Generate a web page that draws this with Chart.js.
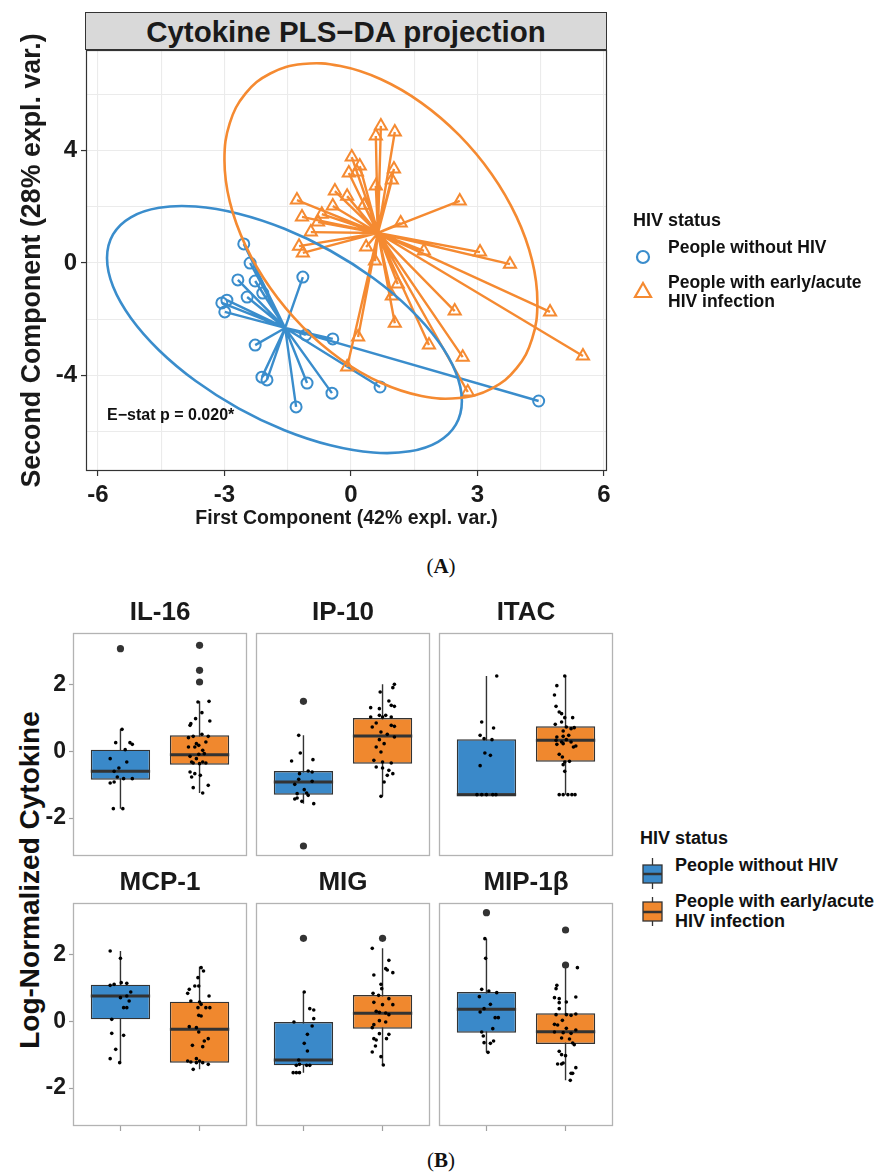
<!DOCTYPE html>
<html><head><meta charset="utf-8">
<script src="https://cdn.jsdelivr.net/npm/chart.js@4.4.1/dist/chart.umd.min.js"></script>
<style>
html,body{margin:0;padding:0;background:#fff;}
body{width:881px;height:1176px;position:relative;overflow:hidden;font-family:'Liberation Sans',Arial,Helvetica,sans-serif;color:#111;}
.abs{position:absolute;}
canvas{position:absolute;display:block;}
.lg{position:absolute;font-weight:bold;white-space:nowrap;color:#111;}
</style></head><body>
<div class="abs" style="left:85px;top:12px;width:520px;height:36px;background:#d9d9d9;border:1px solid #333;text-align:center;font-weight:bold;font-size:29.5px;line-height:37px;color:#1a1a1a;">Cytokine PLS−DA projection</div>
<canvas id="chartA" width="881" height="545" style="left:0;top:0"></canvas>

<div class="lg" style="left:633px;top:209px;font-size:18px;line-height:22px;">HIV status</div>
<svg class="abs" style="left:634px;top:248px" width="20" height="20"><circle cx="9" cy="9" r="6" stroke="#3A8DCC" stroke-width="2.2" fill="none"/></svg>
<div class="lg" style="left:668px;top:236px;font-size:17.5px;line-height:22px;">People without HIV</div>
<svg class="abs" style="left:633px;top:281px" width="22" height="20"><polygon points="10,2 18,16 2,16" stroke="#F58A31" stroke-width="2.2" fill="none"/></svg>
<div class="lg" style="left:668px;top:273px;font-size:17.5px;line-height:18.5px;">People with early/acute<br>HIV infection</div>

<div class="abs" style="left:341px;top:553px;width:200px;text-align:center;font-family:'Liberation Serif','Times New Roman',serif;font-size:21px;line-height:26px;color:#111;">(<b>A</b>)</div>

<div class="abs" style="left:-170px;top:864px;width:400px;text-align:center;font-weight:bold;font-size:28px;line-height:32px;transform:rotate(-90deg);color:#111;">Log-Normalized Cytokine</div>

<div class="lg" style="left:640px;top:827px;font-size:18px;line-height:22px;">HIV status</div>
<svg class="abs" style="left:640px;top:855px" width="26" height="80">
  <line x1="12.5" y1="3" x2="12.5" y2="34" stroke="#333" stroke-width="1.3"/>
  <rect x="3" y="10" width="19" height="18" fill="#3A89C9" stroke="#333" stroke-width="1.3"/>
  <line x1="3" y1="19" x2="22" y2="19" stroke="#333" stroke-width="2.5"/>
  <line x1="12.5" y1="42" x2="12.5" y2="71" stroke="#333" stroke-width="1.3"/>
  <rect x="3" y="47" width="19" height="19" fill="#F0882E" stroke="#333" stroke-width="1.3"/>
  <line x1="3" y1="57" x2="22" y2="57" stroke="#333" stroke-width="2.5"/>
</svg>
<div class="lg" style="left:675px;top:854px;font-size:18px;line-height:22px;">People without HIV</div>
<div class="lg" style="left:675px;top:891px;font-size:18px;line-height:20px;">People with early/acute<br>HIV infection</div>

<div class="abs" style="left:341px;top:1147px;width:200px;text-align:center;font-family:'Liberation Serif','Times New Roman',serif;font-size:21px;line-height:26px;color:#111;">(<b>B</b>)</div>

<script>
// ================= DATA: Panel A (PLS-DA projection) =================
const groupNames = ['People without HIV', 'People with early/acute HIV infection'];
const comp1_noHIV = [-2.54,-2.39,-2.68,-2.27,-2.46,-2.09,-3.06,-2.94,-2.99,-1.14,-2.27,-1.07,-0.43,-2.11,-1.99,-1.04,-0.45,-1.30,0.69,4.45];
const comp2_noHIV = [0.68,0.00,-0.60,-0.64,-1.21,-1.07,-1.42,-1.32,-1.74,-0.50,-2.92,-2.56,-2.70,-4.06,-4.16,-4.27,-4.63,-5.12,-4.41,-4.91];
const comp1_HIV = [0.71,0.59,1.04,0.02,0.21,-0.05,0.14,1.02,0.97,-0.38,-0.09,0.59,-1.28,-0.43,0.31,2.58,-1.16,-0.69,-0.78,1.18,-0.95,-1.23,-1.14,0.36,0.57,1.73,3.06,3.77,1.11,0.97,2.46,4.72,1.04,0.17,1.85,2.65,5.50,-0.09,2.77];
const comp2_HIV = [4.88,4.52,4.66,3.77,3.45,3.20,3.24,3.35,2.95,2.56,2.38,2.74,2.24,2.03,2.06,2.21,1.64,1.74,1.46,1.42,1.10,0.60,0.36,0.57,0.07,0.43,0.39,-0.04,-0.75,-1.17,-1.71,-1.74,-2.14,-2.63,-2.92,-3.35,-3.31,-3.70,-4.59];
const centroid_noHIV = [-1.56, -2.31];
const centroid_HIV = [0.64, 1.07];
// confidence-ellipse outline vertices
const ellipseX_noHIV = [2.630,2.487,2.066,1.398,0.527,-0.487,-1.576,-2.665,-3.679,-4.550,-5.218,-5.639,-5.782,-5.639,-5.218,-4.550,-3.679,-2.665,-1.576,-0.487,0.527,1.398,2.066,2.487];
const ellipseY_noHIV = [-4.911,-5.752,-6.362,-6.700,-6.743,-6.487,-5.951,-5.171,-4.199,-3.102,-1.956,-0.838,0.177,1.018,1.628,1.966,2.009,1.753,1.217,0.437,-0.535,-1.632,-2.778,-3.896];
const ellipseX_HIV = [4.420,4.294,3.923,3.334,2.566,1.671,0.711,-0.249,-1.144,-1.912,-2.501,-2.872,-2.998,-2.872,-2.501,-1.912,-1.144,-0.249,0.711,1.671,2.566,3.334,3.923,4.294];
const ellipseY_HIV = [-1.388,-2.699,-3.749,-4.466,-4.801,-4.730,-4.260,-3.422,-2.273,-0.892,0.627,2.183,3.666,4.977,6.027,6.744,7.079,7.008,6.538,5.700,4.551,3.170,1.651,0.095];
const xGridA = [-6,-4.5,-3,-1.5,0,1.5,3,4.5,6];
const xTicksA = [-6,-3,0,3,6];
const xTickLabelsA = ['-6','-3','0','3','6'];
const yGridA = [-6,-4,-2,0,2,4,6];
const yTicksA = [-4,0,4];
const yTickLabelsA = ['-4','0','4'];
const estatText = 'E−stat p = 0.020*';
const estatPos = [-5.78, -5.44];

// ================= DATA: Panel B (box plots) =================
const cytokines = ['IL-16','IP-10','ITAC','MCP-1','MIG','MIP-1β'];
// [lower whisker, Q1, median, Q3, upper whisker]
const box_noHIV = [
  [-1.72,-0.85,-0.60,0.05,0.66],
  [-1.57,-1.30,-0.92,-0.59,0.48],
  [-1.30,-1.30,-1.30,0.36,2.26],
  [-1.24,0.06,0.76,1.10,2.11],
  [-1.54,-1.32,-1.16,-0.02,0.88],
  [-0.93,-0.34,0.36,0.88,2.48]
];
const box_HIV = [
  [-1.25,-0.40,-0.10,0.48,1.50],
  [-1.35,-0.37,0.46,1.00,2.01],
  [-1.30,-0.31,0.33,0.75,2.26],
  [-1.44,-1.24,-0.24,0.59,1.64],
  [-1.31,-0.22,0.24,0.79,2.19],
  [-1.77,-0.68,-0.31,0.24,1.63]
];
const outliers_noHIV = [[3.08],[1.50,-2.84],[],[],[2.49],[3.26]];
const outliers_HIV = [[3.18,2.43,2.08],[],[],[],[2.49],[2.74,1.69]];
// jittered observations: [horizontal jitter, value]
const jit_noHIV = [
  [[0.02,0.66],[-0.06,0.26],[0.12,0.26],[0.15,0.21],[0.06,0.05],[-0.13,-0.22],[0.08,-0.32],[-0.02,-0.50],[-0.08,-0.60],[-0.04,-0.77],[0.04,-0.82],[0.15,-0.82],[-0.08,-0.92],[-0.13,-0.95],[-0.09,-1.72],[0.03,-1.72]],
  [[-0.06,0.48],[-0.04,-0.05],[-0.15,-0.29],[0.12,-0.25],[-0.05,-0.67],[0.06,-0.59],[0.11,-0.62],[-0.06,-0.84],[0.11,-0.90],[-0.11,-0.99],[0.01,-1.15],[-0.08,-1.27],[0.04,-1.25],[0.06,-1.32],[-0.08,-1.40],[-0.11,-1.43],[-0.02,-1.50],[0.13,-1.57]],
  [[0.13,2.26],[-0.06,0.88],[0.09,0.70],[-0.08,0.48],[-0.03,0.38],[0.07,0.35],[-0.02,-0.05],[0.05,-0.12],[-0.08,-0.43],[-0.12,-1.30],[-0.06,-1.30],[0.00,-1.30],[0.08,-1.30],[0.12,-1.30]],
  [[-0.13,2.11],[0.00,1.89],[-0.13,1.08],[-0.08,1.11],[0.01,1.16],[0.08,1.14],[0.13,0.88],[0.08,0.76],[0.00,0.71],[0.11,0.61],[0.04,0.41],[0.08,0.41],[-0.11,0.06],[-0.11,-0.36],[0.04,-0.42],[-0.06,-0.84],[-0.13,-1.12],[-0.01,-1.24]],
  [[0.01,0.88],[0.08,0.38],[0.13,0.34],[-0.12,-0.02],[0.13,0.08],[0.11,-0.14],[0.05,-0.39],[0.01,-0.66],[0.05,-0.89],[-0.06,-1.16],[-0.09,-1.32],[-0.05,-1.29],[0.04,-1.32],[0.08,-1.32],[-0.13,-1.54],[-0.09,-1.54],[-0.05,-1.54]],
  [[-0.02,2.48],[-0.01,1.89],[-0.06,0.96],[0.03,0.91],[0.13,0.86],[-0.09,0.74],[0.05,0.51],[-0.03,0.38],[-0.08,0.28],[0.11,0.11],[0.15,0.11],[0.08,-0.22],[-0.06,-0.32],[-0.04,-0.44],[0.09,-0.59],[0.05,-0.66],[-0.03,-0.64],[0.02,-0.93]]
];
const jit_HIV = [
  [[-0.02,1.48],[0.12,1.50],[0.03,1.16],[-0.05,0.98],[-0.11,0.83],[-0.12,0.78],[0.13,0.91],[0.03,0.51],[-0.08,0.45],[-0.14,0.41],[0.11,0.45],[-0.04,0.23],[-0.01,0.18],[0.08,0.28],[-0.14,0.13],[-0.06,0.13],[0.04,0.03],[0.06,-0.07],[-0.01,-0.09],[-0.12,-0.15],[-0.04,-0.22],[-0.10,-0.32],[-0.08,-0.35],[0.00,-0.37],[0.04,-0.32],[0.08,-0.35],[-0.12,-0.62],[-0.06,-0.67],[0.01,-0.72],[-0.10,-0.77],[0.11,-1.02],[-0.08,-1.09],[0.04,-1.25]],
  [[0.15,2.01],[0.13,1.91],[-0.03,1.78],[0.08,1.51],[0.11,1.38],[0.15,1.35],[-0.15,1.31],[-0.04,1.28],[-0.15,1.03],[-0.04,1.08],[0.00,1.03],[0.04,1.08],[0.11,1.03],[-0.08,0.85],[-0.13,0.73],[0.11,0.78],[0.15,0.75],[-0.02,0.58],[0.06,0.51],[0.15,0.43],[-0.04,0.35],[0.02,0.23],[-0.08,0.13],[-0.02,-0.02],[-0.11,-0.27],[0.00,-0.32],[0.11,-0.35],[-0.08,-0.47],[0.00,-0.50],[0.08,-0.57],[0.13,-0.67],[0.06,-0.72],[0.02,-0.92],[-0.02,-1.35]],
  [[-0.01,2.26],[-0.11,1.97],[-0.14,1.69],[-0.12,1.35],[-0.08,1.18],[-0.05,1.13],[-0.01,1.01],[0.09,1.01],[-0.13,0.81],[-0.05,0.88],[0.01,0.73],[0.07,0.68],[0.11,0.71],[-0.03,0.61],[-0.11,0.43],[0.04,0.48],[-0.03,0.45],[-0.12,0.33],[-0.05,0.28],[0.01,0.35],[-0.11,0.21],[-0.03,0.23],[0.07,0.28],[0.13,0.16],[0.10,0.13],[-0.08,-0.09],[-0.04,-0.17],[-0.01,-0.32],[0.05,-0.30],[-0.03,-0.40],[-0.01,-0.60],[-0.08,-1.30],[-0.03,-1.30],[0.03,-1.30],[0.08,-1.30],[0.12,-1.30]],
  [[0.02,1.61],[0.05,1.51],[-0.02,1.31],[-0.06,1.06],[-0.01,1.06],[-0.13,0.96],[-0.15,0.84],[0.12,0.76],[-0.11,0.61],[0.00,0.58],[0.02,0.51],[-0.02,0.41],[0.08,0.41],[0.13,0.41],[-0.01,0.18],[0.02,0.16],[-0.13,-0.16],[-0.04,-0.19],[-0.01,-0.32],[0.11,-0.52],[0.06,-0.59],[-0.09,-0.72],[0.04,-0.76],[-0.04,-1.12],[0.00,-1.19],[-0.15,-1.19],[-0.11,-1.22],[-0.04,-1.24],[0.04,-1.24],[0.11,-1.29],[-0.08,-1.44]],
  [[-0.13,2.19],[0.08,1.83],[0.04,1.58],[0.06,1.54],[0.13,1.46],[-0.11,1.39],[-0.02,1.11],[-0.01,0.98],[-0.12,0.84],[-0.05,0.78],[0.08,0.68],[-0.11,0.57],[0.00,0.50],[0.13,0.50],[-0.08,0.30],[-0.04,0.27],[0.04,0.25],[0.08,0.20],[-0.04,0.02],[0.04,-0.02],[-0.11,-0.10],[-0.13,-0.19],[-0.04,-0.37],[0.08,-0.39],[-0.11,-0.52],[-0.08,-0.56],[0.05,-0.52],[-0.09,-0.74],[-0.13,-0.92],[-0.02,-1.06],[0.01,-1.31]],
  [[0.15,1.61],[-0.11,1.08],[-0.12,0.98],[-0.14,0.71],[-0.08,0.68],[0.13,0.73],[-0.08,0.56],[0.01,0.58],[-0.08,0.38],[-0.12,0.20],[0.01,0.20],[0.07,0.18],[0.13,0.22],[-0.04,0.03],[-0.14,-0.09],[-0.10,-0.11],[0.01,-0.21],[0.13,-0.26],[-0.14,-0.32],[-0.03,-0.34],[0.07,-0.36],[-0.05,-0.50],[0.05,-0.53],[0.09,-0.65],[0.11,-0.70],[-0.08,-0.90],[-0.05,-1.00],[0.00,-1.03],[-0.10,-1.28],[-0.05,-1.28],[-0.03,-1.25],[0.13,-1.39],[0.09,-1.56],[0.07,-1.56],[0.06,-1.77]]
];
const groupPos = [1, 2];
const yTicksB = [-2, 0, 2];
const yTickLabelsB = ['-2', '0', '2'];

// ================= STYLE =================
const FONT = "'Liberation Sans', Arial, Helvetica, sans-serif";
const C_BLUE = '#3A8DCC', C_ORANGE = '#F58A31';
const C_BOXB = '#3A89C9', C_BOXO = '#F0882E';
const INK = '#1a1a1a';
Chart.defaults.font.family = FONT;
Chart.defaults.animation = false;

const panelBorder = {
  id: 'panelBorder',
  afterDatasetsDraw(chart, args, opts) {
    const {ctx, chartArea: a} = chart;
    ctx.save();
    ctx.strokeStyle = opts.color || '#333';
    ctx.lineWidth = opts.width || 1;
    ctx.strokeRect(Math.round(a.left) + 0.5, Math.round(a.top) + 0.5, Math.round(a.right - a.left) - 1, Math.round(a.bottom - a.top) - 1);
    ctx.restore();
  }
};
const annotText = {
  id: 'annotText',
  afterDatasetsDraw(chart, args, opts) {
    if (!opts || !opts.text) return;
    const {ctx, scales} = chart;
    ctx.save();
    ctx.font = opts.font;
    ctx.fillStyle = opts.color;
    ctx.textAlign = 'left';
    ctx.textBaseline = 'middle';
    ctx.fillText(opts.text, scales.x.getPixelForValue(opts.pos[0]), scales.y.getPixelForValue(opts.pos[1]));
    ctx.restore();
  }
};

// ================= PANEL A =================
function spokes(c, xs, ys) {
  const d = [];
  xs.forEach((x, i) => { d.push({x: c[0], y: c[1]}, {x: x, y: ys[i]}, {x: x, y: null}); });
  return d;
}
// closed smooth outline: wrap one vertex on each side so every drawn segment has proper neighbours
function closedLoop(xs, ys) {
  const n = xs.length;
  const d = [{x: xs[n - 1], y: ys[n - 1]}];
  for (let i = 0; i < n; i++) d.push({x: xs[i], y: ys[i]});
  d.push({x: xs[0], y: ys[0]}, {x: xs[1], y: ys[1]});
  return d;
}
function loopSegment(color) {
  return {borderColor: ctx => {
    const last = ctx.p1.$context ? null : null;
    return (ctx.p0DataIndex === 0 || ctx.p1DataIndex === ctx.chart.data.datasets[ctx.datasetIndex].data.length - 1) ? 'rgba(0,0,0,0)' : color;
  }};
}
function pts(xs, ys) { return xs.map((x, i) => ({x, y: ys[i]})); }

new Chart(document.getElementById('chartA'), {
  type: 'scatter',
  data: {
    datasets: [
      {type: 'line', label: 'spokes noHIV', data: spokes(centroid_noHIV, comp1_noHIV, comp2_noHIV), borderColor: C_BLUE, borderWidth: 2.4, pointRadius: 0, spanGaps: false, order: 4},
      {type: 'line', label: 'spokes HIV', data: spokes(centroid_HIV, comp1_HIV, comp2_HIV), borderColor: C_ORANGE, borderWidth: 2.4, pointRadius: 0, spanGaps: false, order: 3},
      {label: groupNames[0], data: pts(comp1_noHIV, comp2_noHIV), pointStyle: 'circle', pointRadius: 5.5, borderColor: C_BLUE, borderWidth: 2, backgroundColor: 'rgba(0,0,0,0)', order: 2},
      {label: groupNames[1], data: pts(comp1_HIV, comp2_HIV), pointStyle: 'triangle', pointRadius: 7, borderColor: C_ORANGE, borderWidth: 2, backgroundColor: 'rgba(0,0,0,0)', order: 2},
      {type: 'line', label: 'ellipse noHIV', data: closedLoop(ellipseX_noHIV, ellipseY_noHIV), borderColor: C_BLUE, borderWidth: 2.6, pointRadius: 0, tension: 0.4, order: 1, datasetIndexHint: 4},
      {type: 'line', label: 'ellipse HIV', data: closedLoop(ellipseX_HIV, ellipseY_HIV), borderColor: C_ORANGE, borderWidth: 2.6, pointRadius: 0, tension: 0.4, order: 0}
    ]
  },
  options: {
    responsive: false,
    animation: false,
    layout: {padding: {left: 0, top: 50, right: 274, bottom: 0}, autoPadding: false},
    plugins: {
      legend: {display: false},
      tooltip: {enabled: false},
      panelBorder: {color: '#333', width: 1.2},
      annotText: {text: estatText, pos: estatPos, font: 'bold 16px ' + FONT, color: '#111'}
    },
    scales: {
      x: {
        type: 'linear', min: -6.28, max: 6.07,
        afterBuildTicks: s => { s.ticks = xGridA.map(v => ({value: v})); },
        afterFit: s => { s.height = 74; s.paddingLeft = 0; s.paddingRight = 0; },
        border: {display: false},
        grid: {color: '#ebebeb', lineWidth: 1.1, drawTicks: true, tickLength: 5, tickWidth: 1.2,
               tickColor: c => (c.tick && xTicksA.includes(c.tick.value)) ? '#333' : 'rgba(0,0,0,0)'},
        ticks: {autoSkip: false, maxRotation: 0, padding: 5, color: INK, font: {size: 24, weight: 'bold'},
                callback: v => { const i = xTicksA.indexOf(v); return i >= 0 ? xTickLabelsA[i] : ''; }},
        title: {display: true, text: 'First Component (42% expl. var.)', color: INK, font: {size: 19.5, weight: 'bold'}, padding: {top: 0, bottom: 15}}
      },
      y: {
        type: 'linear', min: -7.40, max: 7.58,
        afterBuildTicks: s => { s.ticks = yGridA.map(v => ({value: v})); },
        afterFit: s => { s.width = 86; s.paddingTop = 0; s.paddingBottom = 0; },
        border: {display: false},
        grid: {color: '#ebebeb', lineWidth: 1.1, drawTicks: true, tickLength: 5, tickWidth: 1.2,
               tickColor: c => (c.tick && yTicksA.includes(c.tick.value)) ? '#333' : 'rgba(0,0,0,0)'},
        ticks: {autoSkip: false, padding: 4, color: INK, font: {size: 24, weight: 'bold'},
                callback: v => { const i = yTicksA.indexOf(v); return i >= 0 ? yTickLabelsA[i] : ''; }},
        title: {display: true, text: 'Second Component (28% expl. var.)', color: INK, font: {size: 26.8, weight: 'bold'}, padding: {top: 17, bottom: 0}}
      }
    }
  },
  plugins: [panelBorder, annotText]
});
// hide the two wrap-around helper segments of each closed outline
(function () {
  const ch = Chart.getChart('chartA');
  [4, 5].forEach(k => {
    const ds = ch.data.datasets[k];
    const col = ds.borderColor;
    const n = ds.data.length;
    ds.segment = {borderColor: ctx => (ctx.p0DataIndex === 0 || ctx.p1DataIndex === n - 1) ? 'rgba(0,0,0,0)' : col};
  });
  ch.update('none');
})();

// ================= PANEL B =================
const colLeft = [73, 256, 439], rowTop = [633, 903], PW = 174, PH = 223;
const halfBox = 0.375;
cytokines.forEach((name, i) => {
  const r = Math.floor(i / 3), c = i % 3;
  const yw = c === 0 ? 33 : 0;
  const xh = r === 1 ? 8 : 0;
  const cl = colLeft[c] - 2 - yw, ct = rowTop[r] - 34;
  const cw = 2 + yw + PW + 2, chh = 34 + PH + xh + 2;
  const cv = document.createElement('canvas');
  cv.width = cw; cv.height = chh;
  cv.style.left = cl + 'px'; cv.style.top = ct + 'px';
  document.body.appendChild(cv);

  const sA = box_noHIV[i], sB = box_HIV[i];
  const p1 = groupPos[0], p2 = groupPos[1];
  new Chart(cv, {
    type: 'bar',
    data: {
      datasets: [
        {type: 'line', data: [{x: p1, y: sA[0]}, {x: p1, y: sA[4]}, {x: p1, y: null}, {x: p2, y: sB[0]}, {x: p2, y: sB[4]}],
         borderColor: '#333', borderWidth: 1.4, pointRadius: 0, spanGaps: false, order: 5},
        {type: 'bar', data: [{x: p1, y: [sA[1], sA[3]]}, {x: p2, y: [sB[1], sB[3]]}],
         backgroundColor: [C_BOXB, C_BOXO], borderColor: '#333', borderWidth: 1.4, borderSkipped: false,
         barPercentage: 0.75, categoryPercentage: 1, order: 4},
        {type: 'line', data: [{x: p1 - halfBox, y: sA[2]}, {x: p1 + halfBox, y: sA[2]}, {x: p1, y: null}, {x: p2 - halfBox, y: sB[2]}, {x: p2 + halfBox, y: sB[2]}],
         borderColor: '#333', borderWidth: 3, pointRadius: 0, spanGaps: false, order: 3},
        {type: 'scatter', data: outliers_noHIV[i].map(v => ({x: p1, y: v})).concat(outliers_HIV[i].map(v => ({x: p2, y: v}))),
         pointRadius: 3.6, backgroundColor: '#333', borderWidth: 0, order: 2},
        {type: 'scatter', data: jit_noHIV[i].map(d => ({x: p1 + d[0], y: d[1]})).concat(jit_HIV[i].map(d => ({x: p2 + d[0], y: d[1]}))),
         pointRadius: 1.8, backgroundColor: '#000', borderWidth: 0, order: 1}
      ]
    },
    options: {
      responsive: false,
      animation: false,
      layout: {padding: {left: 2, right: 2, top: 0, bottom: 2}, autoPadding: false},
      plugins: {
        legend: {display: false},
        tooltip: {enabled: false},
        title: {display: true, text: name, fullSize: false, color: INK, font: {size: 26, weight: 'bold', lineHeight: '26px'}, padding: {top: 1, bottom: 7}},
        panelBorder: {color: '#b3b3b3', width: 1.3}
      },
      scales: {
        x: {
          type: 'linear', min: 0.4, max: 2.6, offset: false,
          afterBuildTicks: s => { s.ticks = groupPos.map(v => ({value: v})); },
          afterFit: s => { s.height = xh; s.paddingLeft = 0; s.paddingRight = 0; },
          border: {display: false},
          grid: {display: r === 1, offset: false, drawOnChartArea: false, drawTicks: true, tickLength: 5, tickColor: '#a0a0a0', tickWidth: 1.2},
          ticks: {display: false}
        },
        y: {
          type: 'linear', min: -3.14, max: 3.55, display: c === 0,
          afterBuildTicks: s => { s.ticks = yTicksB.map(v => ({value: v})); },
          afterFit: s => { s.width = yw; s.paddingTop = 0; s.paddingBottom = 0; },
          border: {display: false},
          grid: {drawOnChartArea: false, drawTicks: true, tickLength: 4, tickColor: '#a0a0a0', tickWidth: 1.2},
          ticks: {padding: 3, color: INK, font: {size: 23, weight: 'bold'},
                  callback: v => { const k = yTicksB.indexOf(v); return k >= 0 ? yTickLabelsB[k] : ''; }}
        }
      }
    },
    plugins: [panelBorder]
  });
});
</script>
</body></html>
